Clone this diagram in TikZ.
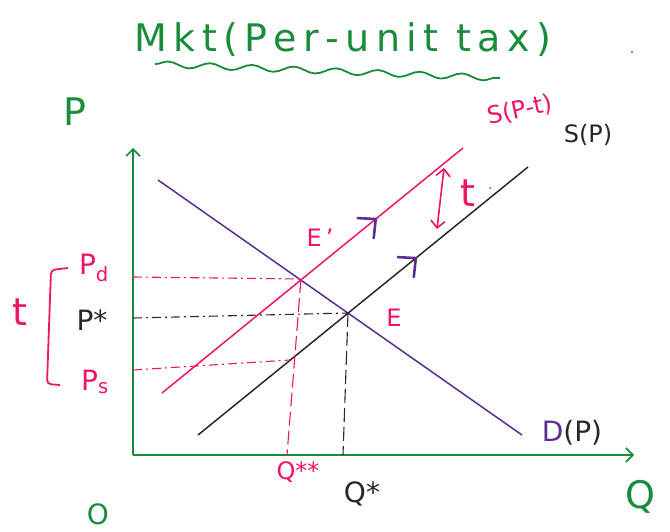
\documentclass[tikz,border=0pt]{standalone}
\usepackage{fontspec}
\setmainfont{DejaVu Sans}
\usetikzlibrary{arrows.meta,decorations.pathmorphing,calc}
\definecolor{hgreen}{RGB}{25,140,60}
\definecolor{hpink}{RGB}{240,20,100}
\definecolor{hpurple}{RGB}{90,45,145}
\definecolor{hblack}{RGB}{40,40,40}
\tikzset{
  axis/.style={hgreen,line width=1.6pt,-{Straight Barb[length=7pt,width=14pt]}},
  curve/.style={line width=1.5pt},
  guide/.style={line width=1.1pt,dash pattern=on 9pt off 4pt on 2pt off 4pt},
  vguide/.style={line width=1.1pt,dash pattern=on 14pt off 5pt},
  lbl/.style={inner sep=0pt,font=\fontsize{24}{26}\selectfont},
  midlbl/.style={inner sep=0pt,font=\fontsize{28}{30}\selectfont},
  biglbl/.style={inner sep=0pt,font=\fontsize{38}{40}\selectfont},
  chevron/.style={hpurple,line width=2.6pt,line cap=round,line join=round}
}
\begin{document}
\begin{tikzpicture}[x=1pt,y=-1pt]
\useasboundingbox (0,0) rectangle (670,532);
% title
\node[biglbl,text=hgreen] (title) at (343,40) {M\,k\,t\,(\,P\,e\,r\,-\,u\,n\,i\,t\,\ t\,a\,x\,)};
\draw[hgreen,line width=1.8pt,decorate,decoration={snake,amplitude=3pt,segment length=42pt}] (155,64) -- (500,78);
\fill[hpink] (632,52) circle (1.2pt);
% axes
\coordinate (O) at (133,455);
\coordinate (ytop) at (133,148);
\coordinate (xend) at (634,455);
\draw[axis] (O) -- (ytop);
\draw[axis] (O) -- (xend);
\node[biglbl,text=hgreen] (plab) at (75,112) {P};
\node[midlbl,text=hgreen] (olab) at (98,514) {O};
\node[biglbl,text=hgreen] (qlab) at (640,497) {Q};
% curves
\coordinate (d1) at (158,180);
\coordinate (d2) at (522,435);
\coordinate (s1) at (198,435);
\coordinate (s2) at (528,167);
\coordinate (st1) at (162,393);
\coordinate (st2) at (463,148);
\draw[curve,hpurple] (d1) -- (d2);
\draw[curve,hblack] (s1) -- (s2);
\draw[curve,hpink] (st1) -- (st2);
\coordinate (c1) at ($(s1)!0.66!(s2)$);
\coordinate (c2) at ($(st1)!0.71!(st2)$);
\draw[chevron] ($(c1)+(-18,-1)$) -- (c1) -- ($(c1)+(-2,19)$);
\draw[chevron] ($(c2)+(-18,-1)$) -- (c2) -- ($(c2)+(-2,19)$);
% equilibria
\coordinate (Ep) at (301,279);
\coordinate (E) at (348,313);
\coordinate (Sq) at (290,360);
% guides
\coordinate (pdax) at (133,277);
\coordinate (psax) at (133,370);
\coordinate (pstax) at (133,318);
\coordinate (qssax) at (287,455);
\coordinate (qsax) at (343,455);
\draw[guide,hpink] (pdax) -- (Ep);
\draw[guide,hpink] (psax) -- (Sq);
\draw[guide,hblack] (pstax) -- (E);
\draw[vguide,hpink] (Ep) -- (qssax);
\draw[vguide,hblack] (E) -- (qsax);
% tax arrow
\coordinate (ta) at (444,168);
\coordinate (tb) at (437,229);
\draw[hpink,line width=1.6pt,{Straight Barb[length=7pt,width=14pt]}-{Straight Barb[length=7pt,width=14pt]}] (tb) -- (ta);
\node[biglbl,text=hpink] (tlab) at (468,193) {t};
\fill[hpink] (490,188) circle (1pt);
% labels
\node[lbl,text=hpink,rotate=12] (stlab) at (520,110) {S(P-t)};
\node[lbl,text=hblack] (slab) at (588,135) {S(P)};
\node[lbl,text=hpink] (eplab) at (320,238) {E\,'};
\node[lbl,text=hpink] (elab) at (394,318) {E};
\node[midlbl] (dlab) at (572,433) {\textcolor{hpurple}{D}\textcolor{hblack}{(P)}};
\node[midlbl,text=hpink] (pdlab) at (94,268) {P\textsubscript{d}};
\node[midlbl,text=hblack] (pslab) at (92,320) {P*};
\node[midlbl,text=hpink] (pslab2) at (95,382) {P\textsubscript{s}};
\node[biglbl,text=hpink] (tlab2) at (20,312) {t};
\draw[hpink,line width=1.8pt,rounded corners=4pt] (68,268) -- (51,270) -- (47,384) -- (60,385);
\node[lbl,text=hpink] (qsslab) at (298,472) {Q**};
\node[midlbl,text=hblack] (qslab) at (362,494) {Q*};
\end{tikzpicture}
\end{document}
